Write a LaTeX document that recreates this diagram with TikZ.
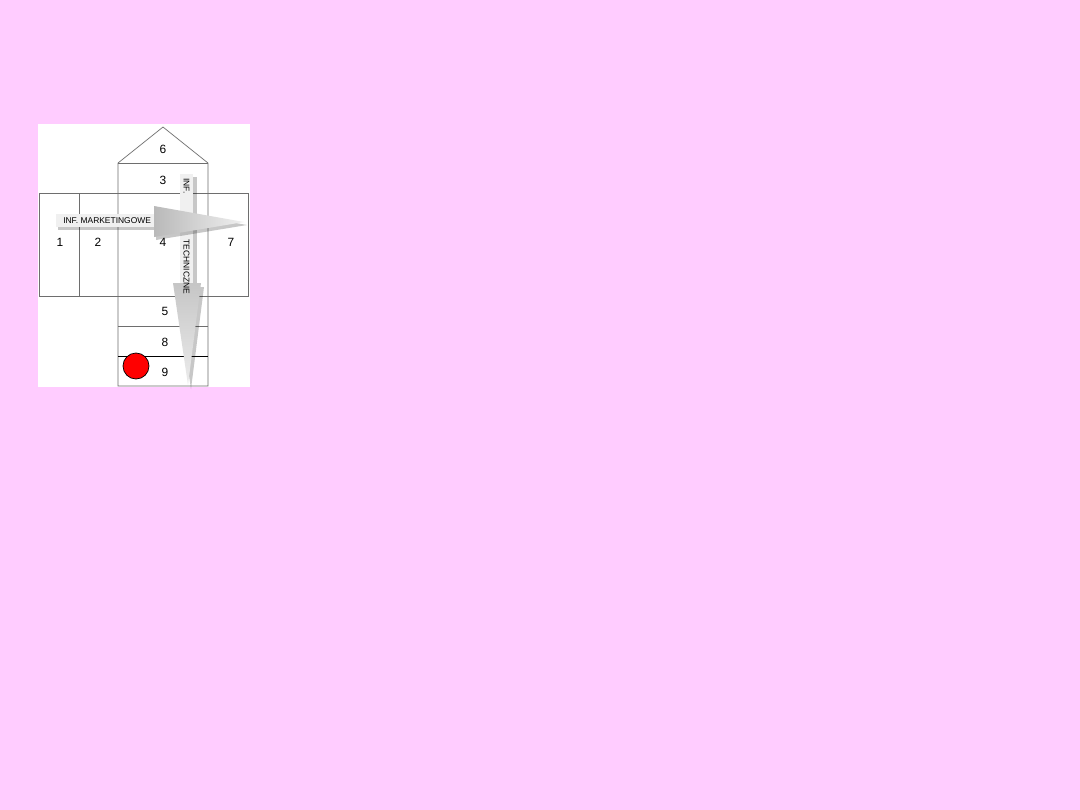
\documentclass[tikz,border=0pt]{standalone}
\usepackage{fontspec}
\setmainfont{Liberation Sans}
\usetikzlibrary{shadows}
\definecolor{bgpink}{HTML}{FFCCFF}
\definecolor{cellline}{HTML}{6E6E6E}
\tikzset{
  cell/.style={draw=cellline, line width=0.5pt},
  num/.style={inner sep=0pt, font=\fontsize{8.5}{10}\selectfont},
  arrtext/.style={inner sep=0pt, font=\fontsize{6}{7}\selectfont},
  shaft/.style={fill=gray!12, draw=none},
  shadowpart/.style={fill=black, fill opacity=0.22, draw=none},
}
\begin{document}
\begin{tikzpicture}[x=0.025cm, y=-0.025cm]
\useasboundingbox (0,0) rectangle (1080,810);
\fill[bgpink] (0,0) rectangle (1080,810);
% white picture area
\fill[white] (38,124) rectangle (250,387);
% cells
\draw[cell] (118,386) -- (118,163) -- (163,127) -- (208,163) -- (208,386) -- cycle;
\draw[cell] (118,163) -- (208,163);
\draw[cell] (39,193) rectangle (248,296);
\draw[cell] (79,193) -- (79,296);
\draw[cell] (118,326) -- (208,326);
\draw[black, line width=0.7pt] (118,356) -- (208,356);
% numbers
\node[num] (n6) at (163,149) {6};
\node[num] (n3) at (163,180) {3};
\node[num] (n1) at (60,242) {1};
\node[num] (n2) at (98,242) {2};
\node[num] (n4) at (163,242) {4};
\node[num] (n7) at (231,242) {7};
\node[num] (n5) at (165,311) {5};
\node[num] (n8) at (165,342) {8};
\node[num] (n9) at (165,372) {9};
% red dot
\node[circle, draw=black, fill=red, line width=0.5pt, minimum size=0.65cm, inner sep=0pt] (dot) at (136,366) {};
% vertical arrow (technical information)
\fill[shadowpart] (183,177) rectangle (197,288);
\fill[shadowpart] (176,287) -- (204,287) -- (191,389) -- cycle;
\fill[shaft] (180,174) rectangle (193,284);
\shade[top color=gray!45, bottom color=gray!15] (173,283) -- (201,283) -- (188,385) -- cycle;
\node[arrtext, rotate=-90] (tinf) at (186.5,186) {INF.};
\node[arrtext, rotate=-90] (ttech) at (186.5,267) {TECHNICZNE};
% horizontal arrow (marketing information)
\fill[shadowpart] (58,217) rectangle (156,230);
\fill[shadowpart] (156,209) -- (156,240) -- (247,225) -- cycle;
\fill[shaft] (56,214) rectangle (154,227);
\shade[left color=gray!55, right color=gray!12] (154,206) -- (154,237) -- (244,222) -- cycle;
\node[arrtext, anchor=west] (tmark) at (63,220.5) {INF. MARKETINGOWE};
\end{tikzpicture}
\end{document}
